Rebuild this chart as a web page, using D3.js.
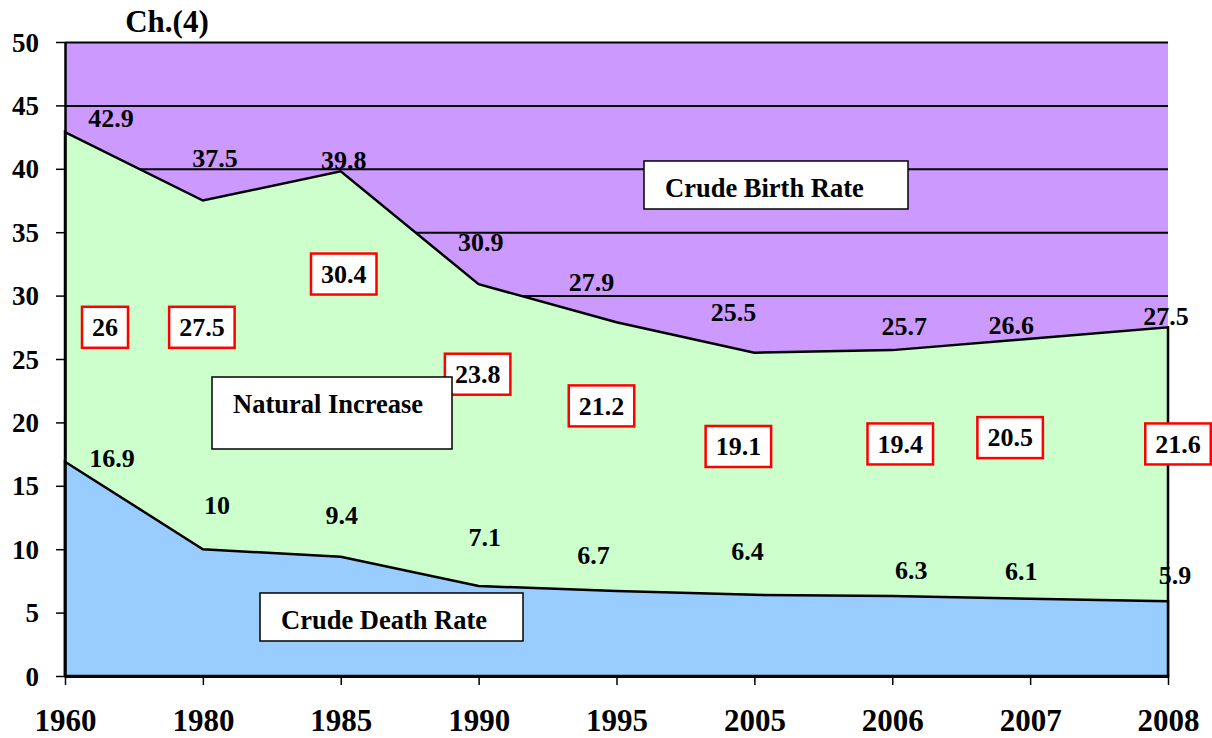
<!DOCTYPE html>
<html>
<head>
<meta charset="utf-8">
<script src="https://cdn.jsdelivr.net/npm/d3@7"></script>
<style>
  body { margin: 0; background: #fff; }
  svg text { font-family: "Liberation Serif", "Times New Roman", serif; font-weight: bold; fill: #000; }
</style>
</head>
<body>
<svg id="chart" width="1212" height="738"></svg>
<script>
// data
var years = ["1960", "1980", "1985", "1990", "1995", "2005", "2006", "2007", "2008"];
var birthRate = [42.9, 37.5, 39.8, 30.9, 27.9, 25.5, 25.7, 26.6, 27.5];
var deathRate = [16.9, 10, 9.4, 7.1, 6.7, 6.4, 6.3, 6.1, 5.9];
var naturalIncrease = [26, 27.5, 30.4, 23.8, 21.2, 19.1, 19.4, 20.5, 21.6];
var yTicks = [0, 5, 10, 15, 20, 25, 30, 35, 40, 45, 50];

// label placement (pixel nudges from each point)
var birthLabelOff = [[46,-14],[12,-42],[3,-11],[2,-42],[-25,-40],[-21,-41],[12,-24],[-19,-14],[-2,-11]];
var deathLabelOff = [[47,-4],[14,-44],[1,-42],[6,-49],[-23,-36],[-7,-44],[19,-26],[-9,-27],[7,-26]];
var niLabelDx = [40, -1, 3, -1, -15, -16, 8, -20, 10];
var niLabelLevel = [27.5, 27.5, 31.7, 23.8, 21.3, 18.1, 18.3, 18.8, 18.3];

var svg = d3.select("#chart");
var plotLeft = 65, plotRight = 1168, plotTop = 42, plotBottom = 676;

var x = d3.scalePoint().domain(years).range([plotLeft, plotRight]);
var y = d3.scaleLinear().domain([0, 50]).range([plotBottom, plotTop]);

// plot background (birth rate band)
svg.append("rect")
    .attr("x", plotLeft).attr("y", plotTop)
    .attr("width", plotRight - plotLeft).attr("height", plotBottom - plotTop)
    .attr("fill", "#cc99ff");

// gridlines
svg.append("g")
    .attr("transform", "translate(" + plotLeft + ",0)")
    .call(d3.axisLeft(y).tickValues(yTicks).tickSize(-(plotRight - plotLeft)).tickFormat(""))
    .call(function(g){
        g.select(".domain").remove();
        g.selectAll("line").attr("stroke", "#000").attr("stroke-width", 2);
    });

function areaOf(vals){
    return d3.area()
        .x(function(d, i){ return x(years[i]); })
        .y0(y(0))
        .y1(function(d){ return y(d); })(vals);
}

svg.append("path")
    .attr("d", areaOf(birthRate))
    .attr("fill", "#ccffcc")
    .attr("stroke", "#000")
    .attr("stroke-width", 2.5);

svg.append("path")
    .attr("d", areaOf(deathRate))
    .attr("fill", "#99ccff")
    .attr("stroke", "#000")
    .attr("stroke-width", 2.5);

// axes
var yAxis = svg.append("g")
    .attr("transform", "translate(" + plotLeft + ",0)")
    .call(d3.axisLeft(y).tickValues(yTicks).tickSize(9).tickSizeOuter(0).tickPadding(17));
yAxis.select(".domain").attr("stroke", "#000").attr("stroke-width", 2.5);
yAxis.selectAll("line").attr("stroke", "#000").attr("stroke-width", 1.5);
yAxis.selectAll("text").style("font-size", "27px").attr("dy", "0.34em");

var xAxis = svg.append("g")
    .attr("transform", "translate(0," + plotBottom + ")")
    .call(d3.axisBottom(x).tickSize(9).tickSizeOuter(0).tickPadding(24));
xAxis.select(".domain").attr("stroke", "#000").attr("stroke-width", 3);
xAxis.selectAll("line").attr("stroke", "#000").attr("stroke-width", 1.5);
xAxis.selectAll("text").style("font-size", "31px");

// title
svg.append("text")
    .attr("x", 167).attr("y", 32)
    .attr("text-anchor", "middle")
    .style("font-size", "31px")
    .text("Ch.(4)");

// birth labels
svg.append("g").selectAll("text")
    .data(birthRate)
    .join("text")
    .attr("x", function(d, i){ return x(years[i]) + birthLabelOff[i][0]; })
    .attr("y", function(d, i){ return y(d) + birthLabelOff[i][1]; })
    .attr("dy", "0.34em")
    .attr("text-anchor", "middle")
    .style("font-size", "26px")
    .text(function(d){ return d; });

// death labels
svg.append("g").selectAll("text")
    .data(deathRate)
    .join("text")
    .attr("x", function(d, i){ return x(years[i]) + deathLabelOff[i][0]; })
    .attr("y", function(d, i){ return y(d) + deathLabelOff[i][1]; })
    .attr("dy", "0.34em")
    .attr("text-anchor", "middle")
    .style("font-size", "26px")
    .text(function(d){ return d; });

// natural increase labels in red boxes
var ni = svg.append("g").selectAll("g")
    .data(naturalIncrease)
    .join("g")
    .attr("transform", function(d, i){
        return "translate(" + (x(years[i]) + niLabelDx[i]) + "," + y(niLabelLevel[i]) + ")";
    });
ni.append("rect")
    .attr("fill", "#fff")
    .attr("stroke", "#ff0000")
    .attr("stroke-width", 2.5);
ni.append("text")
    .attr("text-anchor", "middle")
    .attr("dy", "0.34em")
    .style("font-size", "26px")
    .text(function(d){ return d; });
ni.each(function(){
    var g = d3.select(this);
    var w = g.select("text").node().getComputedTextLength() + 20;
    g.select("rect").attr("x", -w / 2).attr("y", -20.5).attr("width", w).attr("height", 41);
});

// series name boxes
var nameBoxes = [
    {name: "Crude Birth Rate", x: 644, y: 161, w: 264, h: 48, tx: 665, ty: 197},
    {name: "Natural Increase", x: 212, y: 377, w: 240, h: 72, tx: 233, ty: 413},
    {name: "Crude Death Rate", x: 260, y: 593, w: 263, h: 48, tx: 281, ty: 629}
];
var nb = svg.append("g").selectAll("g").data(nameBoxes).join("g");
nb.append("rect")
    .attr("x", function(d){ return d.x; })
    .attr("y", function(d){ return d.y; })
    .attr("width", function(d){ return d.w; })
    .attr("height", function(d){ return d.h; })
    .attr("fill", "#fff")
    .attr("stroke", "#000")
    .attr("stroke-width", 1.5);
nb.append("text")
    .attr("x", function(d){ return d.tx; })
    .attr("y", function(d){ return d.ty; })
    .style("font-size", "26.5px")
    .text(function(d){ return d.name; });
</script>
</body>
</html>
